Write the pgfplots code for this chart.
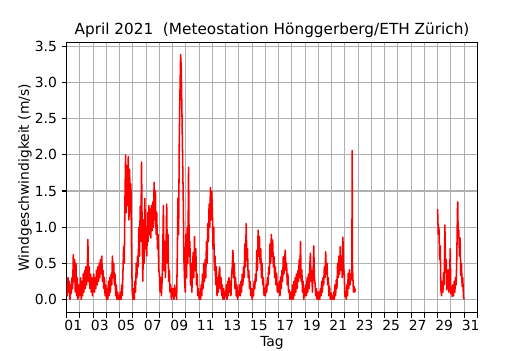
\documentclass[border=0pt]{standalone}
\usepackage{pgfplots}
\pgfplotsset{compat=1.18}
\usepackage{fontspec}
\setmainfont{DejaVu Sans}
\definecolor{gridgray}{HTML}{B0B0B0}
\begin{document}
\begin{tikzpicture}
\begin{axis}[
  scale only axis,
  width=295.6pt, height=194.4pt,
  xmin=0, xmax=31, ymin=-0.185, ymax=3.555,
  axis line style={line width=0.8pt},
  tick align=outside,
  tick pos=left,
  tick style={line width=0.8pt, black},
  major tick length=3.5pt,
  xtick={0,1,...,31},
  xticklabels={},
  extra x ticks={0.5,2.5,...,30.5},
  extra x tick labels={01,03,05,07,09,11,13,15,17,19,21,23,25,27,29,31},
  extra x tick style={major tick length=0pt, grid=none, tick style={draw=none},
    xticklabel style={anchor=base, yshift=-12.5pt}},
  ytick={0,0.5,...,3.5},
  yticklabel style={/pgf/number format/fixed,/pgf/number format/fixed zerofill,/pgf/number format/precision=1},
  /pgf/number format/assume math mode=true,
  ticklabel style={font=\fontsize{10}{12}\selectfont},
  xmajorgrids, ymajorgrids,
  grid style={gridgray, line width=0.8pt},
  title={April 2021\ \ (Meteostation Hönggerberg/ETH Zürich)},
  title style={font=\fontsize{11}{13}\selectfont, at={(axis description cs:0.5,1)}, anchor=base},
  xlabel={Tag},
  xlabel style={at={(axis description cs:0.5,0)}, anchor=base, yshift=-24.3pt},
  ylabel={Windgeschwindigkeit (m/s)},
  ylabel style={at={(axis description cs:-0.092,0.5)}, anchor=base},
  label style={font=\fontsize{10}{12}\selectfont},
]
\addplot[red, line width=1.1pt, line join=round] coordinates {
(0.00,0.20)(0.05,0.05)(0.10,0.30)(0.15,0.10)(0.20,0.25)(0.25,0.00)(0.30,0.20)(0.35,0.08)(0.40,0.30)(0.45,0.15)(0.50,0.62)(0.55,0.25)(0.60,0.55)(0.65,0.10)(0.70,0.50)(0.75,0.05)(0.80,0.30)(0.85,0.00)(0.90,0.20)(0.95,0.05)
(1.00,0.15)(1.05,0.30)(1.10,0.00)(1.15,0.25)(1.20,0.05)(1.25,0.35)(1.30,0.10)(1.35,0.40)(1.40,0.15)(1.45,0.45)(1.50,0.20)(1.55,0.35)(1.60,0.83)(1.65,0.25)(1.70,0.45)(1.75,0.15)(1.80,0.35)(1.85,0.10)(1.90,0.30)(1.95,0.05)
(2.00,0.20)(2.05,0.35)(2.10,0.10)(2.15,0.30)(2.20,0.15)(2.25,0.40)(2.30,0.20)(2.35,0.45)(2.40,0.25)(2.45,0.50)(2.50,0.30)(2.55,0.55)(2.60,0.35)(2.65,0.60)(2.70,0.25)(2.75,0.40)(2.80,0.15)(2.85,0.30)(2.90,0.05)(2.95,0.20)
(3.00,0.00)(3.05,0.15)(3.10,0.00)(3.15,0.25)(3.20,0.05)(3.25,0.30)(3.30,0.10)(3.35,0.35)(3.40,0.20)(3.45,0.60)(3.50,0.30)(3.55,0.50)(3.60,0.20)(3.65,0.35)(3.70,0.05)(3.75,0.20)(3.80,0.00)(3.85,0.10)(3.90,0.00)(3.95,0.05)
(4.00,0.00)(4.05,0.10)(4.10,0.00)(4.15,0.20)(4.20,0.05)(4.25,0.40)(4.30,0.73)(4.35,0.50)(4.40,1.40)(4.45,2.00)(4.50,1.20)(4.55,1.85)(4.60,1.30)(4.65,1.98)(4.70,1.10)(4.75,1.80)(4.80,1.20)(4.85,1.60)(4.90,0.60)(4.95,0.10)
(5.00,0.00)(5.05,0.15)(5.10,0.00)(5.15,0.25)(5.20,0.10)(5.25,0.50)(5.30,0.30)(5.35,0.60)(5.40,0.45)(5.45,1.00)(5.50,0.60)(5.55,1.29)(5.60,0.80)(5.65,1.90)(5.70,0.90)(5.75,0.25)(5.80,1.10)(5.85,0.50)(5.90,1.40)(5.95,0.70)
(6.00,1.00)(6.05,0.60)(6.10,1.20)(6.15,0.80)(6.20,1.30)(6.25,0.90)(6.30,1.25)(6.35,0.85)(6.40,1.30)(6.45,0.95)(6.50,1.35)(6.55,1.00)(6.60,1.62)(6.65,1.10)(6.70,1.50)(6.75,0.90)(6.80,1.20)(6.85,0.70)(6.90,0.90)(6.95,0.40)
(7.00,0.35)(7.05,0.10)(7.10,0.30)(7.15,0.05)(7.20,0.25)(7.25,0.60)(7.30,1.30)(7.35,0.40)(7.40,0.80)(7.45,0.30)(7.50,0.70)(7.55,1.32)(7.60,0.50)(7.65,0.90)(7.70,0.25)(7.75,0.40)(7.80,0.10)(7.85,0.20)(7.90,0.00)(7.95,0.15)
(8.00,0.05)(8.05,0.15)(8.10,0.00)(8.15,0.20)(8.20,0.05)(8.25,0.15)(8.30,0.00)(8.35,0.60)(8.40,1.40)(8.45,0.90)(8.50,2.20)(8.55,2.85)(8.60,3.39)(8.65,3.20)(8.70,2.60)(8.75,1.97)(8.80,1.37)(8.85,0.55)(8.90,0.26)(8.95,0.10)
(9.00,0.90)(9.05,0.30)(9.10,1.00)(9.15,0.50)(9.20,1.83)(9.25,0.60)(9.30,0.80)(9.35,0.20)(9.40,0.50)(9.45,0.10)(9.50,0.45)(9.55,0.65)(9.60,0.30)(9.65,0.87)(9.70,0.40)(9.75,0.70)(9.80,0.20)(9.85,0.35)(9.90,0.05)(9.95,0.15)
(10.00,0.00)(10.05,0.10)(10.10,0.00)(10.15,0.20)(10.20,0.05)(10.25,0.35)(10.30,0.15)(10.35,0.50)(10.40,0.25)(10.45,0.55)(10.50,0.30)(10.55,0.80)(10.60,0.50)(10.65,1.05)(10.70,0.80)(10.75,1.32)(10.80,1.00)(10.85,1.55)(10.90,1.10)(10.95,1.50)
(11.00,1.20)(11.05,0.70)(11.10,1.00)(11.15,0.40)(11.20,0.60)(11.25,0.20)(11.30,0.45)(11.35,0.05)(11.40,0.30)(11.45,0.10)(11.50,0.35)(11.55,0.45)(11.60,0.15)(11.65,0.30)(11.70,0.05)(11.75,0.20)(11.80,0.00)(11.85,0.15)(11.90,0.00)(11.95,0.10)
(12.00,0.05)(12.05,0.20)(12.10,0.00)(12.15,0.25)(12.20,0.05)(12.25,0.30)(12.30,0.10)(12.35,0.25)(12.40,0.05)(12.45,0.35)(12.50,0.45)(12.55,0.68)(12.60,0.30)(12.65,0.50)(12.70,0.15)(12.75,0.30)(12.80,0.05)(12.85,0.20)(12.90,0.00)(12.95,0.10)
(13.00,0.05)(13.05,0.20)(13.10,0.05)(13.15,0.25)(13.20,0.10)(13.25,0.35)(13.30,0.20)(13.35,0.45)(13.40,0.30)(13.45,0.77)(13.50,0.45)(13.55,1.05)(13.60,0.54)(13.65,0.70)(13.70,0.30)(13.75,0.40)(13.80,0.15)(13.85,0.25)(13.90,0.05)(13.95,0.15)
(14.00,0.00)(14.05,0.15)(14.10,0.05)(14.15,0.25)(14.20,0.15)(14.25,0.35)(14.30,0.25)(14.35,0.68)(14.40,0.40)(14.45,0.96)(14.50,0.60)(14.55,0.87)(14.60,0.50)(14.65,0.70)(14.70,0.30)(14.75,0.50)(14.80,0.20)(14.85,0.30)(14.90,0.05)(14.95,0.15)
(15.00,0.05)(15.05,0.20)(15.10,0.10)(15.15,0.30)(15.20,0.20)(15.25,0.45)(15.30,0.35)(15.35,0.77)(15.40,0.50)(15.45,0.90)(15.50,0.60)(15.55,0.82)(15.60,0.45)(15.65,0.59)(15.70,0.30)(15.75,0.45)(15.80,0.20)(15.85,0.36)(15.90,0.10)(15.95,0.20)
(16.00,0.10)(16.05,0.25)(16.10,0.05)(16.15,0.31)(16.20,0.15)(16.25,0.40)(16.30,0.25)(16.35,0.59)(16.40,0.35)(16.45,0.55)(16.50,0.68)(16.55,0.40)(16.60,0.50)(16.65,0.20)(16.70,0.35)(16.75,0.10)(16.80,0.13)(16.85,0.00)(16.90,0.10)(16.95,0.00)
(17.00,0.05)(17.05,0.20)(17.10,0.00)(17.15,0.25)(17.20,0.05)(17.25,0.30)(17.30,0.10)(17.35,0.35)(17.40,0.15)(17.45,0.40)(17.50,0.25)(17.55,0.55)(17.60,0.30)(17.65,0.80)(17.70,0.25)(17.75,0.41)(17.80,0.10)(17.85,0.25)(17.90,0.00)(17.95,0.15)
(18.00,0.05)(18.05,0.20)(18.10,0.05)(18.15,0.30)(18.20,0.10)(18.25,0.35)(18.30,0.15)(18.35,0.45)(18.40,0.64)(18.45,0.25)(18.50,0.40)(18.55,0.10)(18.60,0.35)(18.65,0.74)(18.70,0.30)(18.75,0.22)(18.80,0.05)(18.85,0.15)(18.90,0.00)(18.95,0.10)
(19.00,0.00)(19.05,0.10)(19.10,0.00)(19.15,0.15)(19.20,0.05)(19.25,0.25)(19.30,0.10)(19.35,0.30)(19.40,0.20)(19.45,0.45)(19.50,0.30)(19.55,0.66)(19.60,0.35)(19.65,0.50)(19.70,0.20)(19.75,0.30)(19.80,0.05)(19.85,0.18)(19.90,0.00)(19.95,0.09)
(20.00,0.00)(20.05,0.05)(20.10,0.00)(20.15,0.10)(20.20,0.00)(20.25,0.20)(20.30,0.05)(20.35,0.27)(20.40,0.15)(20.45,0.50)(20.50,0.30)(20.55,0.60)(20.60,0.35)(20.65,0.73)(20.70,0.40)(20.75,0.60)(20.80,0.30)(20.85,0.86)(20.90,0.45)(20.95,0.36)
(21.00,0.04)(21.05,0.10)(21.10,0.00)(21.15,0.20)(21.20,0.05)(21.25,0.36)(21.30,0.15)(21.35,0.41)(21.40,0.20)(21.45,0.35)(21.50,0.27)(21.53,0.40)(21.55,2.06)(21.57,0.50)(21.60,0.32)(21.65,0.10)(21.70,0.18)(21.75,0.10)(21.78,0.15)
};
\addplot[red, line width=1.1pt, line join=round] coordinates {
(28.00,1.25)(28.05,0.90)(28.10,1.00)(28.15,0.55)(28.20,0.74)(28.25,0.13)(28.30,0.05)(28.35,0.25)(28.40,0.10)(28.45,0.37)(28.50,0.20)(28.55,1.03)(28.60,0.37)(28.65,0.55)(28.70,0.13)(28.75,0.30)(28.80,0.41)(28.85,0.10)(28.90,0.18)(28.95,0.70)
(29.00,0.08)(29.05,0.15)(29.10,0.04)(29.15,0.20)(29.20,0.05)(29.25,0.25)(29.30,0.10)(29.35,0.30)(29.40,0.20)(29.45,0.59)(29.50,1.25)(29.52,1.35)(29.55,0.90)(29.60,0.96)(29.65,0.60)(29.70,0.85)(29.75,0.33)(29.80,0.50)(29.85,0.18)(29.90,0.30)(29.95,0.04)(30.00,0.00)
};
\end{axis}
\pgfresetboundingbox
\path[use as bounding box] ([xshift=-48pt,yshift=-26.9pt]current axis.south west) rectangle ([xshift=37.9pt,yshift=30.7pt]current axis.north east);
\end{tikzpicture}
\end{document}
